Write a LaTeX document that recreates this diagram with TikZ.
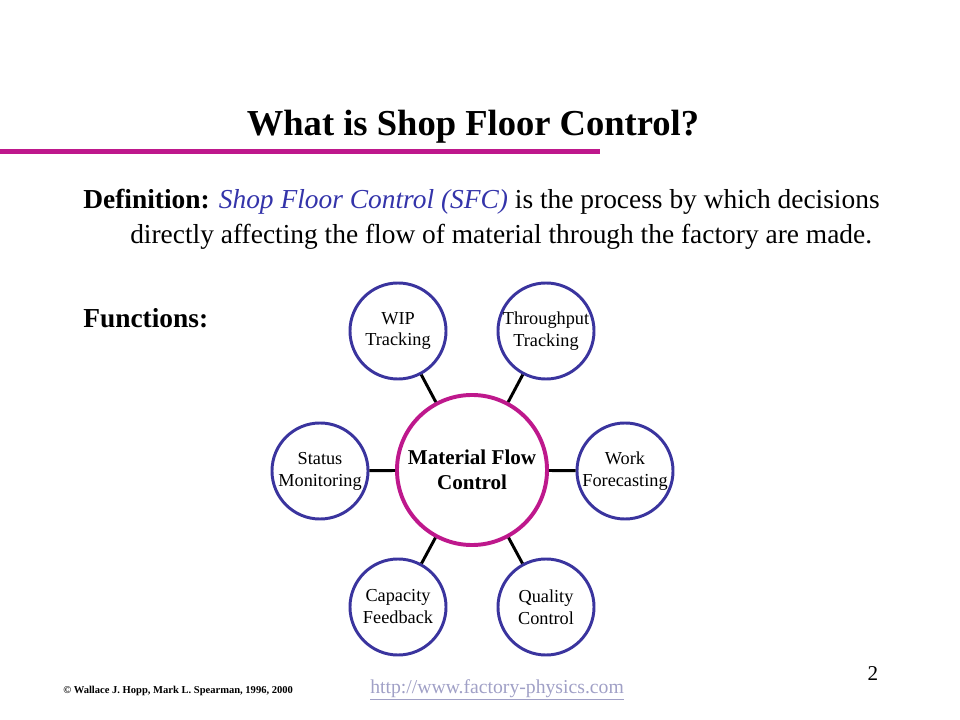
\documentclass[tikz,border=0pt]{standalone}
\usepackage{fontspec}
\setmainfont{Liberation Serif}
\definecolor{sfcMagenta}{RGB}{190,24,140}
\definecolor{sfcBlue}{RGB}{58,52,158}
\definecolor{sfcItalic}{RGB}{52,52,170}
\definecolor{sfcLink}{RGB}{160,160,198}
\begin{document}
\begin{tikzpicture}[x=0.025cm, y=-0.025cm,
  hub/.style={circle, draw=sfcMagenta, line width=2.8pt, minimum size=3.75cm,
    inner sep=0pt, align=center, font=\fontsize{15}{18}\selectfont\bfseries},
  func/.style={circle, draw=sfcBlue, line width=2.1pt, minimum size=2.4cm,
    inner sep=0pt, align=center, font=\fontsize{13}{15.6}\selectfont},
  link/.style={draw=black, line width=2.1pt}]
% page frame (pixel coordinates of the slide)
\useasboundingbox (0,0) rectangle (960,720);
% Title and rule
\node[anchor=base, font=\fontsize{26}{30}\selectfont\bfseries] (title) at (473,136) {What is Shop Floor Control?};
\fill[sfcMagenta] (0,149) rectangle (600,154);
% Definition text
\begin{scope}[font=\fontsize{19.5}{24}\selectfont]
  \node[anchor=base west, inner sep=0pt] (def1) at (83,209)
    {\textbf{Definition:} {\color{sfcItalic}\itshape Shop Floor Control (SFC)} is the process by which decisions};
  \node[anchor=base west, inner sep=0pt] (def2) at (130,244)
    {directly affecting the flow of material through the factory are made.};
  \node[anchor=base west, inner sep=0pt] (fun) at (83,328) {\textbf{Functions:}};
\end{scope}
% Hub and functions
\node[hub] (mfc) at (472,470) {Material Flow\\Control};
\node[func] (wip) at (398,331) {WIP\\Tracking};
\node[func] (thr) at (546,331) {Throughput\\Tracking};
\node[func] (sta) at (320,471) {Status\\Monitoring};
\node[func] (wrk) at (625,471) {Work\\Forecasting};
\node[func] (cap) at (398,607) {Capacity\\Feedback};
\node[func] (qua) at (546,607) {Quality\\Control};
% Connectors
\foreach \f in {wip,thr,sta,wrk,cap,qua}
  \draw[link] (mfc) -- (\f);
% Footer
\node[anchor=base west, inner sep=0pt, font=\fontsize{7.5}{9}\selectfont\bfseries] (copy) at (63,693)
  {\textcopyright{} Wallace J. Hopp, Mark L. Spearman, 1996, 2000};
\node[anchor=base west, inner sep=0pt, text=sfcLink, font=\fontsize{14}{16}\selectfont] (url) at (370,693)
  {\underline{http://www.factory-physics.com}};
\node[anchor=base, inner sep=0pt, font=\fontsize{15}{18}\selectfont] (page) at (873,680) {2};
\end{tikzpicture}
\end{document}
